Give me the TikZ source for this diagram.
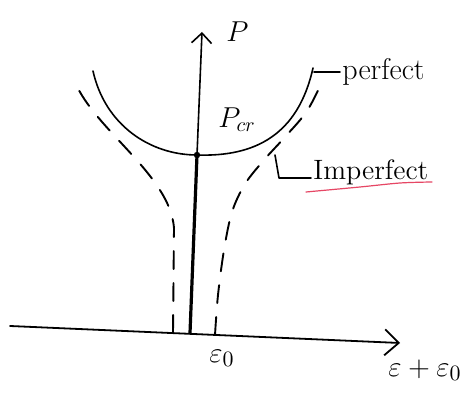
\documentclass[tikz,border=0pt]{standalone}
\usetikzlibrary{arrows.meta}
\begin{document}
\begin{tikzpicture}[x=0.5pt,y=-0.5pt,
  ink/.style={line width=0.8pt,line cap=round,line join=round},
  axisline/.style={ink,line width=0.9pt},
  dashcurve/.style={ink,line width=0.95pt,dash pattern=on 9pt off 7pt},
  lbl/.style={font=\fontsize{14}{16}\selectfont,inner sep=1pt},
  mlbl/.style={font=\fontsize{15}{17}\selectfont,inner sep=1pt}]
\useasboundingbox[fill=white] (0,0) rectangle (476,399);
% axes
\coordinate (xs) at (10,326);
\coordinate (xe) at (400,343);
\coordinate (ys) at (190,333);
\coordinate (dot) at (197,155);
\coordinate (ye) at (202,32);
\draw[axisline,-{Straight Barb[length=7pt,width=13pt,line width=0.9pt]}] (xs) -- (xe);
\draw[ink,line width=1.6pt] (ys) -- (dot);
\draw[ink,-{Straight Barb[length=5pt,width=10pt,line width=0.8pt]}] (dot) -- (ye);
\fill (dot) circle (3.2);
% perfect curve
\coordinate (pl) at (93,71);
\coordinate (pr) at (313,68);
\draw[ink] (pl) .. controls (105,125) and (150,155) .. (dot)
               .. controls (255,157) and (298,135) .. (pr);
\coordinate (pend) at (314,72);
% imperfect dashed curves
\coordinate (dl0) at (173,333);
\coordinate (dl1) at (174,228);
\coordinate (dl2) at (75,82);
\draw[dashcurve] (dl0) -- (dl1) .. controls (170,175) and (95,130) .. (dl2);
\draw[dashcurve] plot[smooth,tension=0.55] coordinates {(215,335) (218,295) (224,250) (232,212) (245,184) (264,160) (285,137) (307,111) (323,80)};
% labels
\node[mlbl,anchor=west] (P) at (224,32) {$P$};
\node[lbl,anchor=west] (Pcr) at (216,120) {$P_{cr}$};
\node[mlbl,anchor=west] (perf) at (340,72) {perfect};
\draw[ink] (pend) -- (perf.west);
\node[lbl,anchor=west] (imperf) at (311,172) {Imperfect};
\coordinate (Lt) at (275,155);
\coordinate (Lc) at (279,178);
\draw[ink] (Lt) -- (Lc) -- (imperf.west |- Lc);
\draw[line width=0.6pt,color={rgb,255:red,230;green,70;blue,100},line cap=round] plot[smooth] coordinates {(306,192) (360,187) (400,183) (432,182)};
\node[mlbl] (e0) at (222,358) {$\varepsilon_0$};
\node[mlbl,anchor=west] (ee0) at (386,370) {$\varepsilon+\varepsilon_0$};
\end{tikzpicture}
\end{document}
